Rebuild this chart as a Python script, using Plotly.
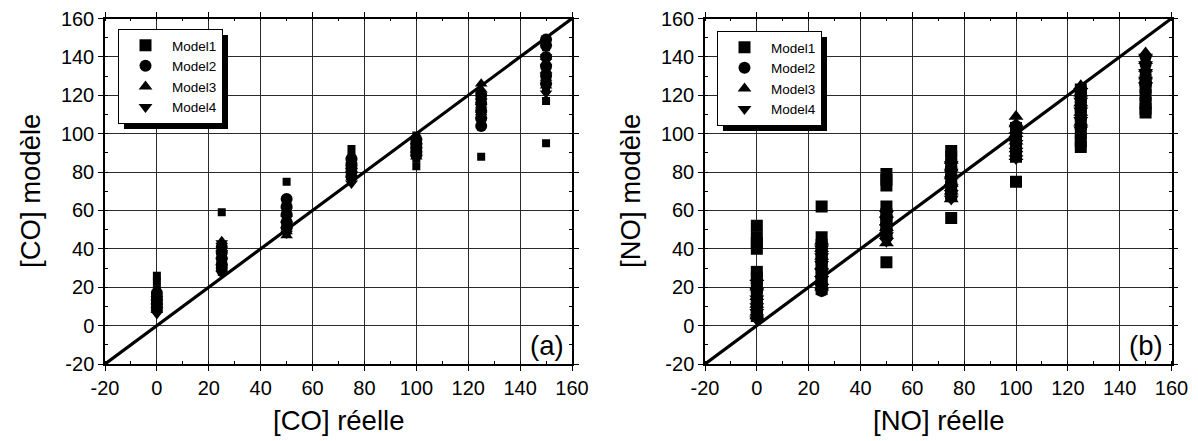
import plotly.graph_objects as go

# ---------------- data ----------------
x_levels = [0, 25, 50, 75, 100, 125, 150]
model_names = ["Model1", "Model2", "Model3", "Model4"]
model_symbols = ["square", "circle", "triangle-up", "triangle-down"]

# Panel (a): [CO]
co_model1 = [[26, 23, 19, 15, 12, 10], [59, 40, 36, 33, 30, 28], [75, 60, 56, 53, 50, 48],
             [92, 88, 84, 81, 79, 77], [99, 96, 93, 90, 87, 83], [88, 121, 117, 113, 109, 106],
             [95, 145, 138, 131, 124, 117]]
co_model2 = [[17, 15, 13, 11, 9], [41, 38, 35, 32, 30], [66, 62, 58, 54, 51],
             [87, 84, 82, 80, 78], [97, 95, 93, 91, 89], [120, 116, 112, 108, 104],
             [149, 146, 140, 135, 130, 126]]
co_model3 = [[15, 13, 11, 9, 8], [44, 40, 36, 33, 30], [58, 55, 52, 49, 47],
             [86, 83, 81, 79, 77], [96, 94, 92, 90, 88], [126, 123, 119, 115, 111],
             [140, 137, 133, 129, 125]]
co_model4 = [[14, 12, 10, 8, 6], [43, 38, 34, 30, 27], [60, 56, 53, 50, 48],
             [85, 82, 79, 76, 74], [96, 93, 91, 89, 87], [120, 117, 114, 110, 107],
             [140, 135, 130, 125, 121]]

# Panel (b): [NO]
no_model1 = [[52, 46, 43, 40, 28, 25, 20, 15, 10, 5], [62, 46, 42, 38, 34, 30, 26, 22, 19],
             [79, 76, 73, 62, 58, 55, 52, 48, 33], [91, 88, 84, 80, 76, 72, 68, 56],
             [75, 103, 100, 97, 94, 91, 88], [123, 119, 114, 110, 105, 100, 96, 93],
             [128, 124, 120, 116, 113, 111]]
no_model2 = [[22, 18, 14, 10, 7, 5], [42, 38, 34, 30, 26, 22, 18], [60, 56, 53, 50, 47],
             [85, 81, 78, 74, 70, 67], [104, 100, 96, 92, 89], [122, 118, 113, 108, 104, 100],
             [140, 136, 132, 128, 125]]
no_model3 = [[25, 20, 15, 11, 7, 5], [44, 40, 36, 31, 27, 23, 20], [58, 54, 51, 47, 43],
             [86, 82, 78, 74, 70, 66], [109, 105, 100, 96, 92, 88], [125, 121, 116, 111, 106],
             [142, 138, 134, 130, 128]]
no_model4 = [[18, 14, 10, 7, 3], [40, 36, 32, 28, 24, 20, 18], [58, 55, 51, 47, 44],
             [84, 80, 76, 72, 69, 66], [103, 99, 95, 91, 87], [122, 117, 112, 107, 102],
             [140, 136, 132, 128, 125]]

identity_line = [-20, 160]
axis_range = [-20, 160]
tick_vals = list(range(-20, 161, 20))
tick_text = [str(v) for v in tick_vals]

co_models = [co_model1, co_model2, co_model3, co_model4]
no_models = [no_model1, no_model2, no_model3, no_model4]

# ---------------- figure ----------------
W, H = 1198, 441
FONT = "Arial, Liberation Sans, Helvetica, sans-serif"


def flatten(cols):
    xs, ys = [], []
    for xv, col in zip(x_levels, cols):
        xs += [xv] * len(col)
        ys += col
    return xs, ys


fig = go.Figure()

panels = [
    dict(models=co_models, xa="x", ya="y", legend="legend", msizes=[8, 12, 11, 11]),
    dict(models=no_models, xa="x2", ya="y2", legend="legend2", msizes=[12, 12, 13, 13]),
]

for p in panels:
    fig.add_trace(go.Scatter(x=identity_line, y=identity_line, mode="lines",
                             line=dict(color="black", width=3.2), showlegend=False,
                             xaxis=p["xa"], yaxis=p["ya"], hoverinfo="skip"))
    for name, sym, cols, ms in zip(model_names, model_symbols, p["models"], p["msizes"]):
        xs, ys = flatten(cols)
        fig.add_trace(go.Scatter(x=xs, y=ys, mode="markers", name=name,
                                 marker=dict(symbol=sym, size=ms, color="black",
                                             line=dict(width=0)),
                                 xaxis=p["xa"], yaxis=p["ya"], legend=p["legend"]))


def px_x(v):
    return v / W


def px_y(v):
    return 1 - v / H


axis_common = dict(
    range=axis_range, tickmode="array", tickvals=tick_vals, ticktext=tick_text,
    showgrid=True, gridcolor="#2a2a2a", gridwidth=1, zeroline=False,
    showline=True, linecolor="black", linewidth=1.5, mirror="allticks",
    ticks="outside", ticklen=5, tickwidth=1, tickcolor="black",
    tickfont=dict(family=FONT, size=20, color="black"),
    minor=dict(dtick=10, tick0=-20, ticks="inside", ticklen=3, tickcolor="black", showgrid=False),
)

LEG_FONT = 13.5
LEG_ITEMW = 43
legend_common = dict(xanchor="left", yanchor="top",
                     bgcolor="white", bordercolor="black", borderwidth=1,
                     font=dict(family=FONT, size=LEG_FONT, color="black"),
                     tracegroupgap=0, itemsizing="constant", itemwidth=LEG_ITEMW)
y_dom = [px_y(364), px_y(18.5)]
fig.update_layout(
    width=W, height=H,
    margin=dict(l=0, r=0, t=0, b=0, autoexpand=False),
    paper_bgcolor="white", plot_bgcolor="white",
    font=dict(family=FONT, color="black"),
    xaxis=dict(domain=[px_x(105), px_x(572)], anchor="y", **axis_common),
    yaxis=dict(domain=y_dom, anchor="x", **axis_common),
    xaxis2=dict(domain=[px_x(705), px_x(1171.5)], anchor="y2", **axis_common),
    yaxis2=dict(domain=y_dom, anchor="x2", **axis_common),
    legend=dict(x=px_x(118), y=px_y(29), **legend_common),
    legend2=dict(x=px_x(717), y=px_y(31), **legend_common),
    showlegend=True,
)

# legend drop shadows (approximate rendered legend box size)
LW, LH = 104, 94
for (l, t) in [(118, 29), (717, 31)]:
    fig.add_shape(type="rect", xref="paper", yref="paper",
                  x0=px_x(l + 6), x1=px_x(l + LW + 6), y0=px_y(t + LH + 6), y1=px_y(t + 6),
                  fillcolor="black", line=dict(width=0), layer="above")

# axis titles and panel labels
annos = [
    dict(text="[CO] réelle", x=px_x(338.5), y=px_y(420)),
    dict(text="[NO] réelle", x=px_x(938), y=px_y(420)),
    dict(text="[CO] modèle", x=px_x(30), y=px_y(191), textangle=-90),
    dict(text="[NO] modèle", x=px_x(630), y=px_y(191), textangle=-90),
    dict(text="(a)", x=px_x(547), y=px_y(345)),
    dict(text="(b)", x=px_x(1146), y=px_y(345)),
]
for a in annos:
    fig.add_annotation(xref="paper", yref="paper", showarrow=False,
                       xanchor="center", yanchor="middle",
                       font=dict(family=FONT, size=27.5, color="black"), **a)

fig.write_html("out.html", post_script="document.body.style.margin='0px';",
               config={"displayModeBar": False})
